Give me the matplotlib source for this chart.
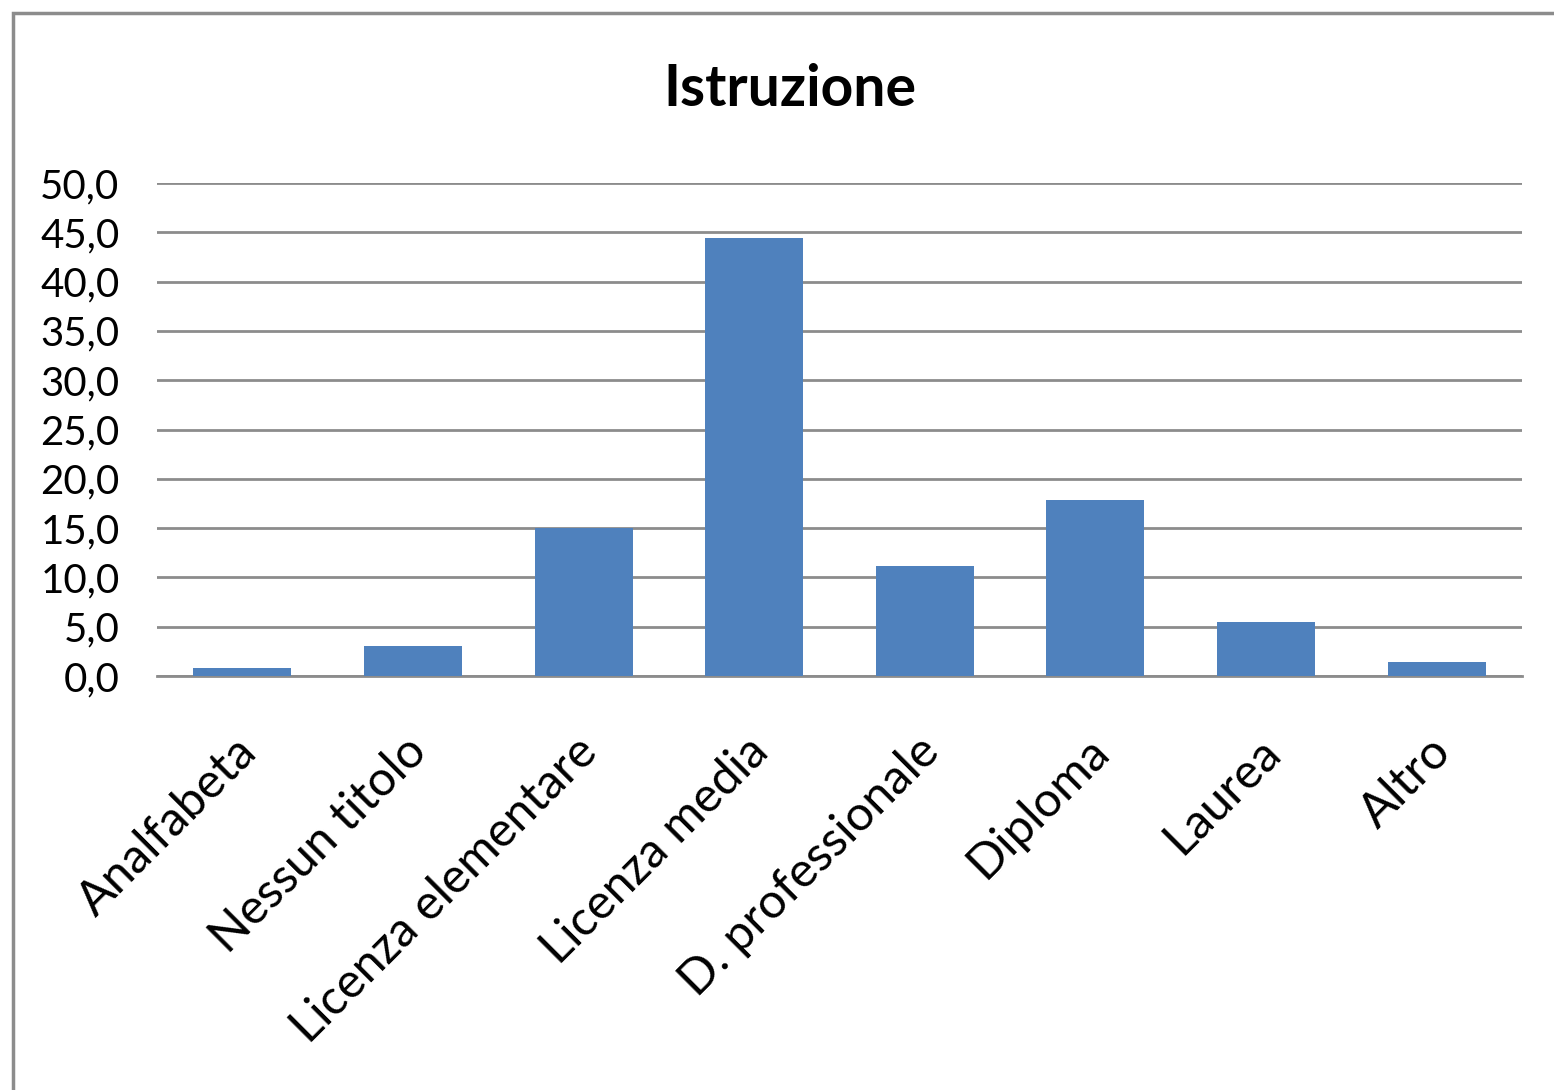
import matplotlib
matplotlib.use('Agg')
import matplotlib.pyplot as plt
from matplotlib.patches import Rectangle
from matplotlib.ticker import FuncFormatter
from matplotlib.transforms import ScaledTranslation

plt.rcParams['font.family'] = ['Lato', 'DejaVu Sans']

categories = ['Analfabeta', 'Nessun titolo', 'Licenza elementare', 'Licenza media',
              'D. professionale', 'Diploma', 'Laurea', 'Altro']
values = [0.8, 3.0, 15.0, 44.4, 11.2, 17.9, 5.5, 1.4]

W, H = 1554, 1090
fig = plt.figure(figsize=(W / 100, H / 100), dpi=100)

# outer chart border (runs off the right and bottom edges)
fig.patches.append(Rectangle((13 / W, -0.05), 1.1, 1 - 13 / H + 0.05,
                             transform=fig.transFigure, fill=False,
                             edgecolor='#8c8c8c', linewidth=2.5))

ax = fig.add_axes([157 / W, 1 - 676 / H, (1522 - 157) / W, (676 - 183) / H])
x = range(len(categories))
ax.bar(x, values, width=0.575, color='#4f81bd', zorder=3)

ax.set_xlim(-0.5, len(categories) - 0.5)
ax.set_ylim(0, 50)
ax.set_yticks(range(0, 51, 5))
ax.yaxis.set_major_formatter(FuncFormatter(lambda v, p: f'{v:.1f}'.replace('.', ',')))
ax.grid(axis='y', color='#8c8c8c', linewidth=2, zorder=0)
for s in ['top', 'right', 'left']:
    ax.spines[s].set_visible(False)
ax.spines['bottom'].set_color('#8c8c8c')
ax.spines['bottom'].set_linewidth(2)
ax.tick_params(length=0, colors='black')
ax.tick_params(axis='y', labelsize=29, pad=27)
ax.tick_params(axis='x', labelsize=35, pad=38)
ax.set_xticks(list(x))
ax.set_xticklabels(categories, rotation=45, ha='right', rotation_mode='anchor')
shift = ScaledTranslation(-9 / 100, 0, fig.dpi_scale_trans)
for lbl in ax.get_xticklabels():
    lbl.set_transform(lbl.get_transform() + shift)

fig.text(790 / W, 1 - 90 / H, 'Istruzione', ha='center', va='center',
         fontsize=41, fontweight='bold')

plt.savefig('out.png', dpi=100, facecolor='white')
plt.close()
